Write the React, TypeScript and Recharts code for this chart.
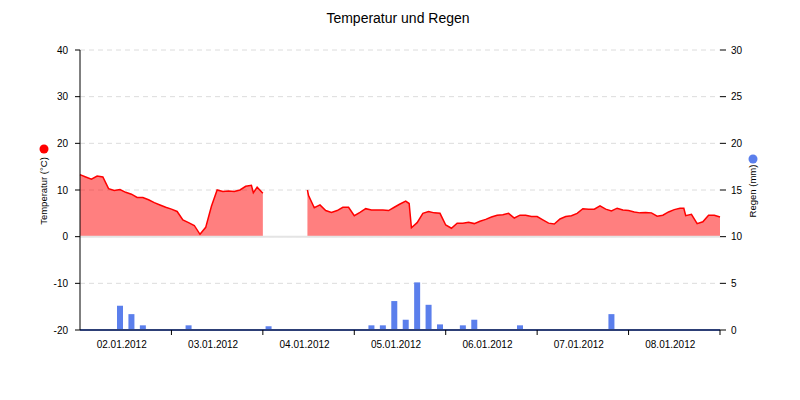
import React from 'react';
import {
  ComposedChart,
  Area,
  Bar,
  XAxis,
  YAxis,
  CartesianGrid,
  ReferenceLine,
} from 'recharts';

// Temperature readings every 1.5 h starting 01.01.2012 12:00 (null = no data)
const tempStep = 1.5;
const temperature: (number | null)[] = [
  13.3, 12.8, 12.3, 13.0, 12.8, 10.3, 9.9, 10.1, 9.5, 9.1,
  8.4, 8.4, 7.9, 7.3, 6.8, 6.3, 5.9, 5.4, 3.6, 3.0,
  2.4, 0.5, 2.0, 6.5, 10.0, 9.7, 9.8, 9.7, 10.0, 10.8,
  11.0, 10.6, 9.3, null, null, null, null, null, null, null,
  8.8, 6.2, 6.8, 5.6, 5.2, 5.6, 6.3, 6.3, 4.5, 5.2,
  6.0, 5.7, 5.7, 5.7, 5.6, 6.3, 7.0, 7.6, 1.9, 3.0,
  5.0, 5.4, 5.1, 5.0, 2.5, 1.8, 2.9, 2.9, 3.1, 2.8,
  3.3, 3.7, 4.2, 4.6, 4.7, 5.0, 4.0, 4.6, 4.6, 4.3,
  4.3, 3.6, 2.9, 2.7, 3.8, 4.3, 4.5, 5.0, 6.0, 5.9,
  5.9, 6.6, 5.9, 5.5, 6.1, 5.7, 5.6, 5.3, 5.1, 5.2,
  5.1, 4.4, 4.6, 5.3, 5.8, 6.1, 4.5, 4.8, 2.8, 3.2,
  4.6, 4.6, 4.2,
];

// a few extra readings at sharp jumps: [hour, °C]
const tempExtra: [number, number][] = [
  [45.5, 9.4],
  [59.7, 10.0],
  [86.4, 7.1],
  [158.5, 6.1],
];

// rain per 3 h interval (mm)
const rainStart = 1.5;
const rainStep = 3;
const rain = [
  0, 0, 0, 2.6, 1.7, 0.5, 0, 0,
  0, 0.5, 0, 0, 0, 0, 0, 0,
  0.4, 0, 0, 0, 0, 0, 0, 0,
  0, 0.5, 0.5, 3.1, 1.1, 5.1, 2.7, 0.6,
  0, 0.5, 1.1, 0, 0, 0, 0.5, 0,
  0, 0, 0, 0, 0, 0, 1.7, 0,
  0, 0, 0, 0, 0, 0, 0, 0,
];

const dayLabels = [
  '02.01.2012',
  '03.01.2012',
  '04.01.2012',
  '05.01.2012',
  '06.01.2012',
  '07.01.2012',
  '08.01.2012',
];

const tempTicks = [-20, -10, 0, 10, 20, 30, 40];
const rainTicks = [0, 5, 10, 15, 20, 25, 30];
const xTicks = Array.from({ length: 14 }, (_, i) => (i + 1) * 12);

type Row = { hour: number; temp: number | null; rain?: number };

const rowMap = new Map<number, Row>();
temperature.forEach((t, i) => rowMap.set(i * tempStep, { hour: i * tempStep, temp: t }));
tempExtra.forEach(([h, t]) => rowMap.set(h, { hour: h, temp: t }));
rain.forEach((r, i) => {
  const h = rainStart + i * rainStep;
  const row = rowMap.get(h);
  if (row) row.rain = r;
  else rowMap.set(h, { hour: h, temp: null, rain: r });
});
const data = [...rowMap.values()].sort((a, b) => a.hour - b.hour);

const FONT = '"Liberation Sans", Arial, sans-serif';

const DayTick = ({ x, y, payload }: any) => {
  const v = payload.value;
  if (v % 24 === 0) {
    return <line x1={x} y1={y} x2={x} y2={y + 5} stroke="#000" />;
  }
  return (
    <text x={x} y={y + 18} dx={-4} textAnchor="middle" fontSize={10} fill="#000" fontFamily={FONT}>
      {dayLabels[Math.floor(v / 24)]}
    </text>
  );
};

const RainBar = (props: any) => {
  const { x, y, width, height, fill } = props;
  if (!(height > 0)) return null;
  const cx = x + width / 2;
  return <rect x={cx - 3} y={y} width={6} height={height} fill={fill} />;
};

const AxisTitle = ({ viewBox, text, color, offsetX, dotGap }: any) => {
  const { x, y, height } = viewBox;
  const cx = x + offsetX;
  const cy = y + height / 2 + 1;
  return (
    <g>
      <circle cx={cx + 1} cy={cy - dotGap} r={4.5} fill={color} />
      <text
        x={cx}
        y={cy}
        transform={`rotate(-90, ${cx}, ${cy})`}
        textAnchor="middle"
        dominantBaseline="central"
        fontSize={9.5}
        fill="#000"
        fontFamily={FONT}
      >
        {text}
      </text>
    </g>
  );
};

export default function App() {
  return (
    <div
      style={{
        position: 'absolute',
        left: 0,
        top: 0,
        width: 800,
        height: 400,
        background: '#fff',
        fontFamily: FONT,
      }}
    >
      <div
        style={{
          position: 'absolute',
          top: 10,
          left: 0,
          width: 796,
          textAlign: 'center',
          fontSize: 14,
          lineHeight: '16px',
          color: '#000',
        }}
      >
        Temperatur und Regen
      </div>
      <ComposedChart
        width={800}
        height={400}
        data={data}
        margin={{ top: 50, right: 0, bottom: 40, left: 0 }}
      >
        <CartesianGrid
          yAxisId="temp"
          vertical={false}
          stroke="#dcdcdc"
          strokeDasharray="5 4"
        />
        <XAxis
          dataKey="hour"
          type="number"
          domain={[0, 168]}
          ticks={xTicks}
          interval={0}
          height={30}
          tickLine={false}
          tickSize={0}
          tickMargin={0}
          tick={<DayTick />}
          axisLine={{ stroke: '#000' }}
        />
        <YAxis
          yAxisId="temp"
          orientation="left"
          width={80}
          domain={[-20, 40]}
          ticks={tempTicks}
          interval={0}
          tickSize={5}
          tickMargin={7}
          tick={{ fontSize: 10, fill: '#000', fontFamily: FONT }}
          tickLine={{ stroke: '#000' }}
          axisLine={{ stroke: '#000' }}
          label={<AxisTitle text="Temperatur (°C)" color="#ff0000" offsetX={43} dotGap={42} />}
        />
        <YAxis
          yAxisId="rain"
          orientation="right"
          width={80}
          domain={[0, 30]}
          ticks={rainTicks}
          interval={0}
          tickSize={6}
          tickMargin={5}
          tick={{ fontSize: 10, fill: '#000', fontFamily: FONT }}
          tickLine={{ stroke: '#000' }}
          axisLine={false}
          label={<AxisTitle text="Regen (mm)" color="#5b7fec" offsetX={32} dotGap={32} />}
        />
        <ReferenceLine yAxisId="temp" y={0} stroke="#e4e4e4" strokeWidth={2} />
        <Area
          yAxisId="temp"
          dataKey="temp"
          type="linear"
          stroke="#ff0000"
          strokeWidth={1.5}
          fill="#ff0000"
          fillOpacity={0.5}
          dot={false}
          activeDot={false}
          connectNulls={false}
          isAnimationActive={false}
        />
        <Bar
          yAxisId="rain"
          dataKey="rain"
          fill="#5b7fec"
          shape={<RainBar />}
          isAnimationActive={false}
        />
        <ReferenceLine yAxisId="rain" y={0} stroke="#5b7fec" strokeWidth={2} />
      </ComposedChart>
    </div>
  );
}
